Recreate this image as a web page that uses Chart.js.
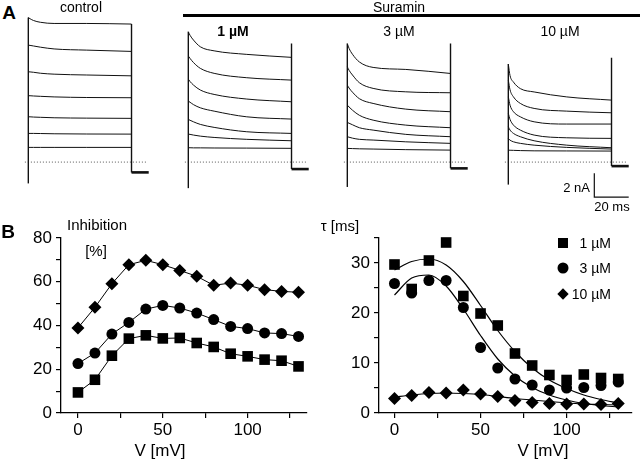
<!DOCTYPE html>
<html>
<head>
<meta charset="utf-8">
<script src="https://cdn.jsdelivr.net/npm/chart.js@4/dist/chart.umd.min.js"></script>
<style>
  body { margin: 0; background: #fff; }
  #fig { position: relative; width: 640px; height: 460px; overflow: hidden; font-family: "Liberation Sans", Arial, sans-serif; color: #000; }
  #fig canvas { position: absolute; }
  .t { position: absolute; white-space: nowrap; line-height: 1; transform: translate(-50%, -50%); }
  .r { transform: translate(-100%, -50%); }
  .b { font-weight: bold; }
  .mk { position: absolute; background: #000; transform: translate(-50%, -50%); }
</style>
</head>
<body>
<div id="fig">
  <canvas id="aCtrl" width="140" height="200" style="left:18px;top:0"></canvas>
  <canvas id="a1" width="140" height="200" style="left:178px;top:0"></canvas>
  <canvas id="a3" width="140" height="200" style="left:337px;top:0"></canvas>
  <canvas id="a10" width="140" height="200" style="left:498px;top:0"></canvas>
  <canvas id="bInh" width="320" height="240" style="left:0;top:220px"></canvas>
  <canvas id="bTau" width="320" height="240" style="left:320px;top:220px"></canvas>

  <div style="position:absolute;left:183px;top:13.5px;width:457px;height:3px;background:#000"></div>
  <div class="t b" style="left:9px;top:12px;font-size:19px">A</div>
  <div class="t" style="left:81px;top:7px;font-size:14px">control</div>
  <div class="t" style="left:399px;top:7px;font-size:14px">Suramin</div>
  <div class="t b" style="left:233px;top:31px;font-size:14px">1 µM</div>
  <div class="t" style="left:399px;top:31px;font-size:14px">3 µM</div>
  <div class="t" style="left:560px;top:31px;font-size:14px">10 µM</div>
  <div class="t r" style="left:590px;top:187px;font-size:13px">2 nA</div>
  <div class="t" style="left:612px;top:206px;font-size:13px">20 ms</div>

  <div class="t b" style="left:8px;top:231px;font-size:19px">B</div>
  <div class="t" style="left:97px;top:224px;font-size:15px">Inhibition</div>
  <div class="t" style="left:96px;top:250px;font-size:15px">[%]</div>
  <div class="t" style="left:340px;top:225px;font-size:15px">τ [ms]</div>
  <div class="t" style="left:160px;top:450px;font-size:17px">V [mV]</div>
  <div class="t" style="left:543px;top:450px;font-size:17px">V [mV]</div>

  <div class="mk" style="left:563px;top:243px;width:10px;height:10px"></div>
  <div class="mk" style="left:563px;top:268px;width:11px;height:11px;border-radius:50%"></div>
  <div class="mk" style="left:563px;top:294px;width:8px;height:8px;transform:translate(-50%,-50%) rotate(45deg)"></div>
  <div class="t r" style="left:611px;top:243px;font-size:14px">1 µM</div>
  <div class="t r" style="left:611px;top:268px;font-size:14px">3 µM</div>
  <div class="t r" style="left:611px;top:294px;font-size:14px">10 µM</div>
</div>

<script>
// ---- panel A: current traces (time in ms, current in nA) ----
const T_MS = [0, 1, 3, 7, 15, 34, 60];

const CONTROL_NA = [
  [12.2, 12.1, 11.95, 11.8, 11.7, 11.7, 11.65],
  [9.87, 9.85, 9.8, 9.7, 9.55, 9.45, 9.34],
  [7.62, 7.61, 7.58, 7.5, 7.42, 7.35, 7.28],
  [5.6, 5.6, 5.58, 5.55, 5.5, 5.45, 5.43],
  [3.82, 3.82, 3.8, 3.78, 3.74, 3.71, 3.69],
  [2.42, 2.42, 2.42, 2.41, 2.39, 2.37, 2.36],
  [1.24, 1.24, 1.24, 1.24, 1.24, 1.24, 1.24]
];
const SUR1_NA = [
  [11.0, 10.7, 10.3, 9.73, 9.39, 9.09, 8.84],
  [8.95, 8.75, 8.4, 7.91, 7.49, 7.12, 6.92],
  [7.0, 6.8, 6.5, 6.08, 5.71, 5.32, 5.09],
  [5.15, 5.05, 4.85, 4.58, 4.3, 3.82, 3.63],
  [3.6, 3.53, 3.4, 3.18, 2.93, 2.56, 2.42],
  [2.36, 2.34, 2.28, 2.19, 2.08, 1.92, 1.8],
  [1.21, 1.21, 1.2, 1.2, 1.19, 1.18, 1.16]
];
const SUR3_NA = [
  [10.0, 9.6, 9.1, 8.45, 7.99, 7.82, 7.48],
  [8.04, 7.75, 7.35, 6.7, 6.22, 5.93, 5.85],
  [6.5, 6.25, 5.9, 5.35, 4.95, 4.47, 4.25],
  [4.81, 4.65, 4.38, 3.95, 3.54, 3.12, 2.9],
  [3.35, 3.28, 3.15, 2.9, 2.7, 2.34, 2.14],
  [2.14, 2.1, 2.02, 1.92, 1.86, 1.71, 1.58],
  [1.16, 1.15, 1.14, 1.12, 1.1, 1.05, 1.01]
];
const SUR10_NA = [
  [8.27, 7.3, 6.75, 6.2, 5.92, 5.5, 5.23],
  [6.92, 6.1, 5.5, 4.95, 4.53, 4.3, 4.16],
  [5.51, 4.8, 4.25, 3.82, 3.4, 3.21, 3.21],
  [4.11, 3.6, 3.12, 2.7, 2.28, 2.05, 2.0],
  [2.98, 2.7, 2.42, 2.14, 1.8, 1.43, 1.21],
  [1.99, 1.85, 1.71, 1.58, 1.43, 1.24, 1.1],
  [1.01, 1.0, 0.99, 0.97, 0.95, 0.94, 0.93]
];
// [onset foot, offset transient top, tail current] in nA
const CONTROL_EDGES = [-1.8, 11.65, -0.87];
const SUR1_EDGES = [-2.2, 10.0, -0.59];
const SUR3_EDGES = [-2.1, 10.0, -0.53];
const SUR10_EDGES = [-1.9, 8.8, -0.34];
const STEP_END_MS = 60;
const TAIL_END_MS = 70;
// scale bar: 2 nA / 20 ms
const SCALE_BAR = { nA: 2, ms: 20, t0: 50, i0: -2.95 };

// ---- panel B ----
const V_MV = [0, 10, 20, 30, 40, 50, 60, 70, 80, 90, 100, 110, 120, 130];
const INHIB_1UM = [9.4, 15.2, 26.2, 34.0, 35.5, 34.1, 34.3, 32.0, 30.2, 27.1, 25.9, 24.4, 23.9, 21.3];
const INHIB_3UM = [22.6, 27.4, 36.1, 41.4, 47.5, 49.2, 48.0, 45.7, 42.7, 39.6, 38.6, 36.6, 36.3, 35.0];
const INHIB_10UM = [38.9, 48.3, 59.1, 67.8, 69.8, 67.8, 65.2, 62.5, 58.4, 59.4, 58.4, 56.4, 55.6, 55.2];

const TAU_1UM = [29.7, 24.8, 30.5, 34.1, 23.4, 19.9, 17.5, 11.9, 9.5, 7.6, 6.6, 7.7, 7.0, 6.8];
const TAU_3UM = [25.9, 24.0, 26.5, 26.5, 21.1, 13.1, 9.0, 6.8, 5.6, 4.6, 5.0, 5.1, 5.5, 6.2];
const TAU_10UM = [2.9, 3.5, 4.1, 4.0, 4.6, 3.8, 3.3, 2.5, 2.1, 1.9, 1.8, 1.8, 1.7, 1.9];
const TAU_FIT_1UM = [28.6, 30.3, 30.8, 29.6, 26.3, 21.5, 16.5, 12.3, 9.0, 6.6, 4.9, 3.6, 2.7, 2.0];
const TAU_FIT_3UM = [23.6, 27.0, 27.6, 25.4, 20.8, 15.5, 10.8, 7.4, 5.1, 3.6, 2.6, 1.9, 1.5, 1.2];
const TAU_FIT_10UM = [3.2, 3.6, 3.9, 4.0, 3.9, 3.7, 3.3, 2.9, 2.6, 2.3, 2.0, 1.8, 1.7, 1.6];

const FONT = "'Liberation Sans', Arial, sans-serif";
const INK = '#000';

function pts(xs, ys) {
  return xs.map((x, i) => ({ x: x, y: ys[i] }));
}

function traceChart(id, traces, edges, withBar) {
  const ds = traces.map(tr => ({
    data: pts(T_MS, tr),
    cubicInterpolationMode: 'monotone',
    borderWidth: 1
  }));
  const top = Math.max(...traces.map(tr => tr[0]));
  ds.push({ data: [{ x: 0, y: edges[0] }, { x: 0, y: top }], borderWidth: 1.4 });
  ds.push({ data: [{ x: STEP_END_MS, y: edges[1] }, { x: STEP_END_MS, y: edges[2] }], borderWidth: 1.4 });
  ds.push({ data: [{ x: STEP_END_MS, y: edges[2] }, { x: TAIL_END_MS, y: edges[2] }], borderWidth: 2.6 });
  ds.push({ data: [{ x: -2, y: 0 }, { x: TAIL_END_MS - 1, y: 0 }], borderWidth: 1, borderDash: [1, 2], borderColor: '#555' });
  if (withBar) {
    const b = SCALE_BAR;
    ds.push({
      data: [{ x: b.t0, y: b.i0 + b.nA }, { x: b.t0, y: b.i0 }, { x: b.t0 + b.ms, y: b.i0 }],
      borderWidth: 1.2
    });
  }
  new Chart(document.getElementById(id), {
    type: 'line',
    data: { datasets: ds },
    options: {
      responsive: false,
      animation: false,
      events: [],
      layout: { padding: 0 },
      plugins: { legend: { display: false }, tooltip: { enabled: false } },
      elements: { point: { radius: 0 }, line: { borderColor: '#111', fill: false } },
      scales: {
        x: { type: 'linear', display: false, min: -6, max: 75.4 },
        y: { type: 'linear', display: false, min: -3.2, max: 13.68 }
      }
    }
  });
}

traceChart('aCtrl', CONTROL_NA, CONTROL_EDGES, false);
traceChart('a1', SUR1_NA, SUR1_EDGES, false);
traceChart('a3', SUR3_NA, SUR3_EDGES, false);
traceChart('a10', SUR10_NA, SUR10_EDGES, true);

function axisOpts(min, max, step, labelEvery, fixSize, horizontal) {
  return {
    type: 'linear',
    min: min,
    max: max,
    border: { color: INK, width: 1.3 },
    grid: { display: true, drawOnChartArea: false, drawTicks: true, tickLength: 5, color: INK, lineWidth: 1.2 },
    ticks: {
      stepSize: step,
      includeBounds: false,
      autoSkip: false,
      maxRotation: 0,
      padding: horizontal ? 2 : 4,
      color: INK,
      font: { family: FONT, size: 17 },
      callback: v => (v % labelEvery === 0 ? v : '')
    },
    afterFit: s => {
      if (horizontal) s.height = fixSize; else s.width = fixSize;
    }
  };
}

function markerSet(ys, style, r) {
  return {
    data: pts(V_MV, ys),
    pointStyle: style,
    pointRadius: r,
    pointBackgroundColor: INK,
    pointBorderColor: INK,
    pointBorderWidth: 0,
    borderColor: INK,
    borderWidth: 1
  };
}

const baseOpts = {
  responsive: false,
  animation: false,
  events: [],
  plugins: { legend: { display: false }, tooltip: { enabled: false } }
};

new Chart(document.getElementById('bInh'), {
  type: 'line',
  data: {
    datasets: [
      markerSet(INHIB_10UM, 'rectRot', 6.5),
      markerSet(INHIB_3UM, 'circle', 5.5),
      markerSet(INHIB_1UM, 'rect', 7.5)
    ].map(d => Object.assign(d, { clip: false }))
  },
  options: Object.assign({}, baseOpts, {
    layout: { padding: { top: 18, right: 13, left: 0, bottom: 0 } },
    scales: {
      x: axisOpts(-10, 135, 25, 50, 47, true),
      y: axisOpts(0, 80, 10, 20, 61, false)
    }
  })
});

function fitSet(ys) {
  return { data: pts(V_MV, ys), cubicInterpolationMode: 'monotone', pointRadius: 0, borderColor: INK, borderWidth: 1.2 };
}
function dotSet(ys, style, r) {
  return Object.assign(markerSet(ys, style, r), { showLine: false, clip: false });
}

new Chart(document.getElementById('bTau'), {
  type: 'line',
  data: {
    datasets: [
      fitSet(TAU_FIT_1UM),
      fitSet(TAU_FIT_3UM),
      fitSet(TAU_FIT_10UM),
      dotSet(TAU_1UM, 'rect', 7.5),
      dotSet(TAU_3UM, 'circle', 5.5),
      dotSet(TAU_10UM, 'rectRot', 6.5)
    ]
  },
  options: Object.assign({}, baseOpts, {
    layout: { padding: { top: 18, right: 8, left: 0, bottom: 0 } },
    scales: {
      x: axisOpts(-9, 138, 25, 50, 47, true),
      y: axisOpts(0, 35, 5, 10, 59, false)
    }
  })
});
</script>
</body>
</html>
